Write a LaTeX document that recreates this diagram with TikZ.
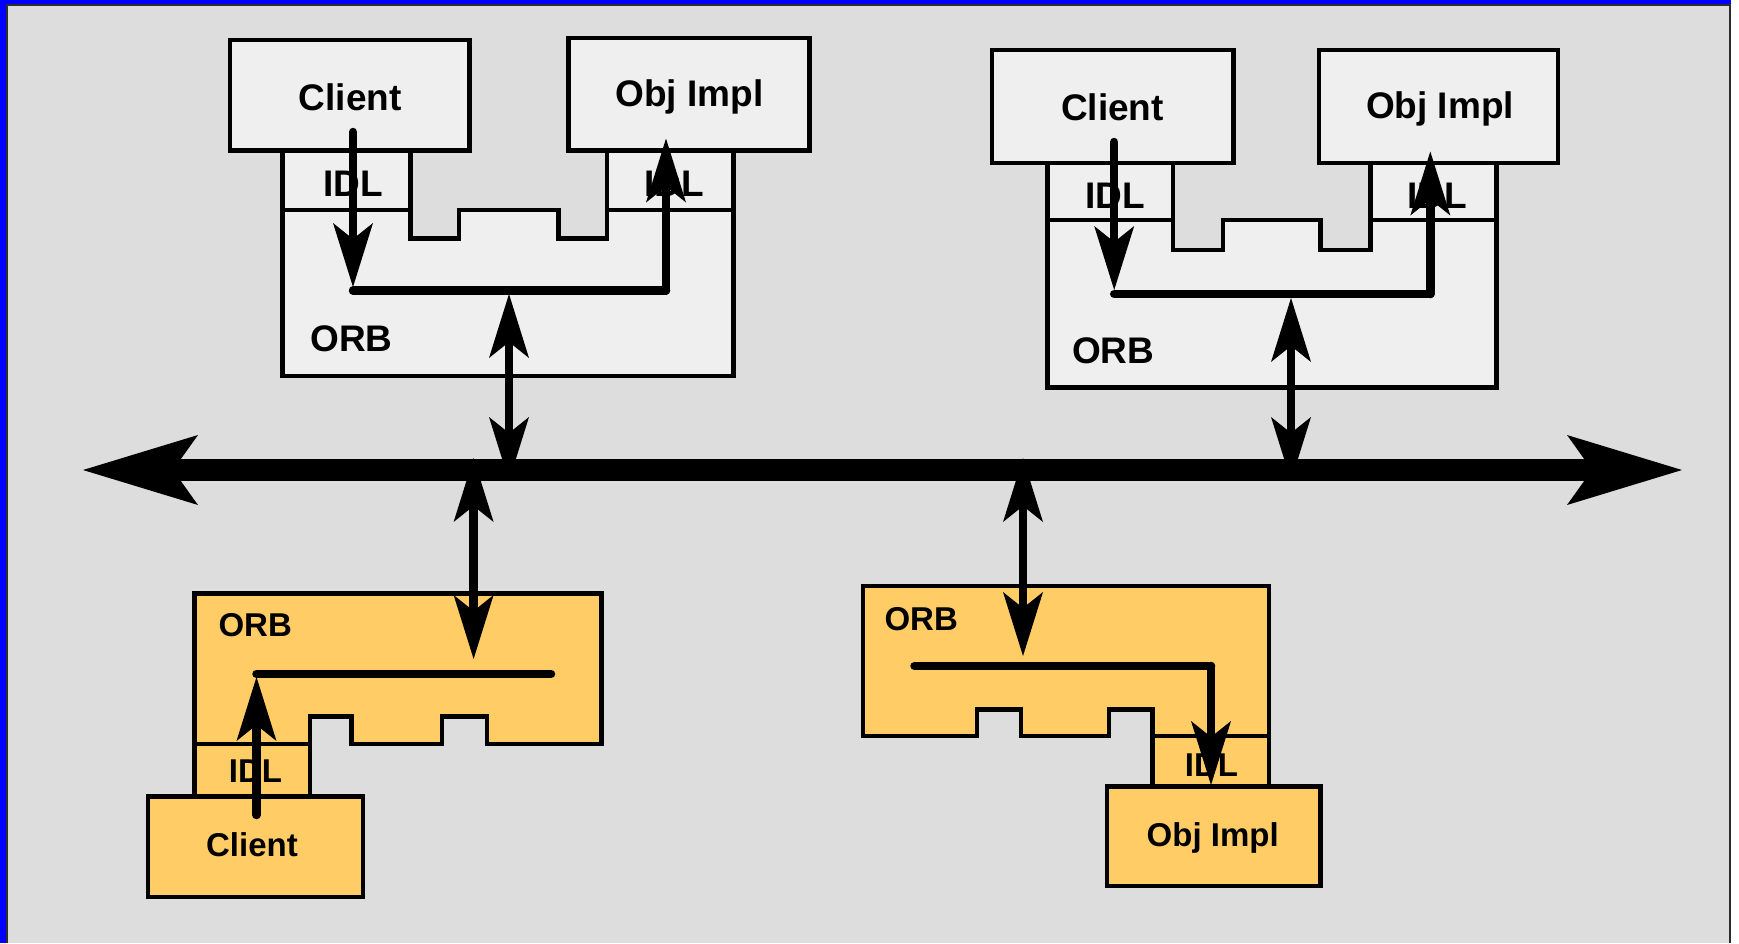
\documentclass[tikz,border=0pt]{standalone}
\usepackage{fontspec}
\setmainfont{Liberation Sans}
\usetikzlibrary{arrows.meta}
\definecolor{bg}{RGB}{221,221,221}
\definecolor{boxgray}{RGB}{239,239,239}
\definecolor{orbyellow}{RGB}{255,204,102}
\definecolor{edgegray}{RGB}{45,45,45}
\begin{document}
\begin{tikzpicture}[x=1pt,y=-1pt,
  outline/.style={draw=black,line width=4.5pt,line join=miter},
  gbox/.style={outline,fill=boxgray},
  ybox/.style={outline,fill=orbyellow},
  lbl/.style={font=\bfseries\fontsize{37}{40}\selectfont,anchor=base,inner sep=0pt},
  slbl/.style={font=\bfseries\fontsize{33}{36}\selectfont,anchor=base,inner sep=0pt},
  tipsmall/.tip={Stealth[length=64pt,width=40pt,inset=16pt,line width=0pt]},
  tipbig/.tip={Stealth[length=115pt,width=70pt,inset=25pt,line width=0pt]},
  flow/.style={line width=8.5pt,line cap=round,-tipsmall},
  link/.style={line width=8.5pt,line cap=round},
  dbl/.style={line width=8.5pt,tipsmall-tipsmall},
  bus/.style={line width=22pt,tipbig-tipbig}
]
% background and frame
\useasboundingbox (0,0) rectangle (1739,943);
\fill[white] (0,0) rectangle (1739,943);
\fill[bg] (6,4) rectangle (1730.5,943);
\fill[blue] (0,0) rectangle (6,943);
\fill[blue] (0,0) rectangle (1731,4);
\draw[edgegray,line width=1.5pt] (6.75,943) -- (6.75,4.75) -- (1729.75,4.75) -- (1729.75,943);

% ---------- top-left group ----------
\draw[gbox] (282.5,150.5) -- (282.5,376) -- (733.5,376) -- (733.5,150.5) -- (606.8,150.5)
  -- (606.8,238.3) -- (558.6,238.3) -- (558.6,210) -- (459.2,210) -- (459.2,238.3)
  -- (410.4,238.3) -- (410.4,150.5) -- cycle;
\draw[outline] (282.5,210) -- (410.4,210);
\draw[outline] (606.8,210) -- (733.5,210);
\draw[gbox] (230,40) rectangle (469.5,150.5);
\draw[gbox] (568.5,38) rectangle (809.5,150.5);
\node[lbl] (tlclient) at (350.3,110) {Client};
\node[lbl] (tlobj) at (689.5,106.7) {Obj Impl};
\node[lbl] (tlidla) at (352.8,196.7) {IDL};
\node[lbl] (tlidlb) at (674,196.7) {IDL};
\node[lbl] (tlorb) at (351.6,351.7) {ORB};

% ---------- top-right group ----------
\draw[gbox] (1047.3,163) -- (1047.3,387.7) -- (1496.5,387.7) -- (1496.5,163) -- (1370.3,163)
  -- (1370.3,250) -- (1320.5,250) -- (1320.5,220) -- (1223,220) -- (1223,250)
  -- (1173.2,250) -- (1173.2,163) -- cycle;
\draw[outline] (1047.3,220) -- (1173.2,220);
\draw[outline] (1370.3,220) -- (1496.5,220);
\draw[gbox] (992,50) rectangle (1233.5,163);
\draw[gbox] (1319,50) rectangle (1558,163);
\node[lbl] (trclient) at (1112.4,120) {Client};
\node[lbl] (trobj) at (1440,118.3) {Obj Impl};
\node[lbl] (tridla) at (1114.8,208.3) {IDL};
\node[lbl] (tridlb) at (1437.2,208.3) {IDL};
\node[lbl] (trorb) at (1113.2,363.3) {ORB};

% ---------- bottom-left group ----------
\draw[ybox] (194.5,593.5) -- (601.5,593.5) -- (601.5,744) -- (486.8,744) -- (486.8,716.7)
  -- (442,716.7) -- (442,744) -- (351.3,744) -- (351.3,716.7) -- (310,716.7)
  -- (310,796.5) -- (194.5,796.5) -- cycle;
\draw[outline] (194.5,744) -- (310,744);
\draw[ybox] (148,796.5) rectangle (362.8,897);
\node[slbl] (blorb) at (255.2,636) {ORB};
\node[slbl] (blidl) at (255.5,782.3) {IDL};
\node[slbl] (blclient) at (252,856.7) {Client};

% ---------- bottom-right group ----------
\draw[ybox] (863,586) -- (1269,586) -- (1269,786.5) -- (1152.7,786.5) -- (1152.7,709.3)
  -- (1109,709.3) -- (1109,736) -- (1020.8,736) -- (1020.8,709.3) -- (977,709.3)
  -- (977,736) -- (863,736) -- cycle;
\draw[outline] (1152.7,736) -- (1269,736);
\draw[ybox] (1107,786.5) rectangle (1320.7,886);
\node[slbl] (brorb) at (921.2,630.7) {ORB};
\node[slbl] (bridl) at (1211.5,776) {IDL};
\node[slbl] (brobj) at (1212.7,846.7) {Obj Impl};

% ---------- bus ----------
\coordinate (busL) at (83,470);
\coordinate (busR) at (1682,470);
\draw[bus] (busL) -- (busR);

% ---------- connectors top-left ----------
\coordinate (tlA) at (353,132);
\coordinate (tlAt) at (353,287);
\coordinate (tlB) at (353,290.6);
\coordinate (tlC) at (666,290.6);
\coordinate (tlD) at (666,138.5);
\coordinate (tlE) at (509,294);
\coordinate (tlF) at (509,481);
\draw[flow] (tlA) -- (tlAt);
\draw[link] (tlB) -- (tlC);
\draw[flow] (tlC) -- (tlD);
\draw[dbl] (tlE) -- (tlF);

% ---------- connectors top-right ----------
\coordinate (trA) at (1114.2,142);
\coordinate (trAt) at (1114.2,290);
\coordinate (trB) at (1114.2,294);
\coordinate (trC) at (1430.3,294);
\coordinate (trD) at (1430.3,151.5);
\coordinate (trE) at (1291,298);
\coordinate (trF) at (1291,481);
\draw[flow] (trA) -- (trAt);
\draw[link] (trB) -- (trC);
\draw[flow] (trC) -- (trD);
\draw[dbl] (trE) -- (trF);

% ---------- connectors bottom-left ----------
\coordinate (blA) at (256.5,815);
\coordinate (blAt) at (256.5,677);
\coordinate (blB) at (256.5,674);
\coordinate (blC) at (551,674);
\coordinate (blE) at (473.6,458);
\coordinate (blF) at (473.6,659);
\draw[flow] (blA) -- (blAt);
\draw[link] (blB) -- (blC);
\draw[dbl] (blE) -- (blF);

% ---------- connectors bottom-right ----------
\coordinate (brB) at (914.5,666);
\coordinate (brC) at (1211,666);
\coordinate (brD) at (1211,785);
\coordinate (brE) at (1023,458);
\coordinate (brF) at (1023,656);
\draw[link] (brB) -- (brC);
\draw[flow] (brC) -- (brD);
\draw[dbl] (brE) -- (brF);
\end{tikzpicture}
\end{document}
